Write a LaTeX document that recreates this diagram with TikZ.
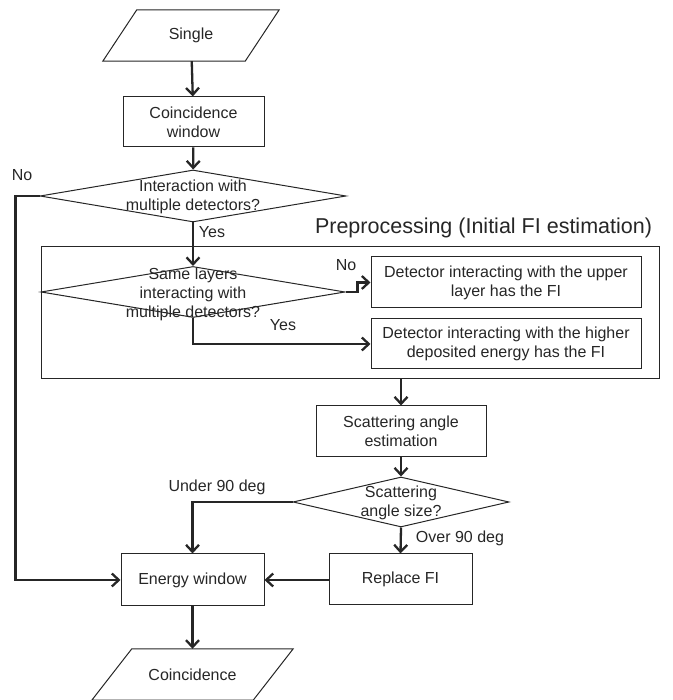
\documentclass[tikz,border=0pt]{standalone}
\usepackage{fontspec}
\setmainfont{Liberation Sans}
\usetikzlibrary{shapes.geometric,arrows.meta}
\definecolor{ink}{gray}{0.15}
\tikzset{
  txt/.style={font=\fontsize{16}{19}\selectfont, align=center, text=ink, inner sep=0pt},
  boxn/.style={draw=ink, line width=1pt, rectangle, inner sep=0pt, font=\fontsize{16}{19}\selectfont, align=center, text=ink},
  dia/.style={draw=ink, line width=1pt, diamond, inner sep=0pt},
  parabase/.style={rectangle, inner sep=0pt, font=\fontsize{16}{19}\selectfont, text=ink},
  outline/.style={draw=ink, line width=1pt, line join=miter},
  arr/.style={draw=ink, line width=2.3pt, -{Straight Barb[length=7pt,width=13pt,line width=2.3pt]}},
}
\begin{document}
\begin{tikzpicture}[x=1pt,y=1pt]
\useasboundingbox (0,0) rectangle (672,700);
% preprocessing frame
\node[boxn, minimum width=618, minimum height=132] (pre) at (350,387) {};
\node[txt, font=\fontsize{21.5}{25}\selectfont] (prelabel) at (483.5,472) {Preprocessing (Initial FI estimation)};
% nodes
\node[parabase, minimum width=142, minimum height=51] (single) at (191,664.5) {Single};
\draw[outline] ([xshift=-17]single.south west) -- ([xshift=17]single.north west) -- ([xshift=17]single.north east) -- ([xshift=-17]single.south east) -- cycle;
\node[boxn, minimum width=141, minimum height=50] (coinc) at (193.5,578) {Coincidence\\window};
\node[dia, minimum width=306, minimum height=52] (d1) at (193,504) {};
\node[txt] at (193,503) {Interaction with\\multiple detectors?};
\node[dia, minimum width=304, minimum height=51] (d2) at (193,408) {};
\node[txt] at (193,406) {Same layers\\interacting with\\multiple detectors?};
\node[boxn, minimum width=270, minimum height=51] (box1) at (506,417.5) {Detector interacting with the upper\\layer has the FI};
\node[boxn, minimum width=270, minimum height=50] (box2) at (506,356) {Detector interacting with the higher\\deposited energy has the FI};
\node[boxn, minimum width=170, minimum height=51] (scat) at (401,268.5) {Scattering angle\\estimation};
\node[dia, minimum width=216, minimum height=50] (d3) at (401,198) {};
\node[txt] at (401,197) {Scattering\\angle size?};
\node[boxn, minimum width=143, minimum height=52] (energy) at (192.5,120) {Energy window};
\node[boxn, minimum width=143, minimum height=51] (replace) at (400.5,120.5) {Replace FI};
\node[parabase, minimum width=161, minimum height=51] (cout) at (192.5,25.5) {Coincidence};
\draw[outline] ([xshift=-20]cout.south west) -- ([xshift=20]cout.north west) -- ([xshift=20]cout.north east) -- ([xshift=-20]cout.south east) -- cycle;
% labels
\node[txt] (lno1) at (22,525) {No};
\node[txt] (lyes1) at (212,468) {Yes};
\node[txt] (lno2) at (346,435) {No};
\node[txt] (lyes2) at (283,375) {Yes};
\node[txt] (lunder) at (217,213) {Under 90 deg};
\node[txt] (lover) at (460,162) {Over 90 deg};
% connectors
\draw[arr] (single) -- (coinc);
\draw[arr] (coinc) -- (d1);
\draw[arr] (d1.west) -- ++(-24,0) |- (energy.west);
\draw[arr] (d1.south) -- (d2.north);
\draw[arr] (d2.east) -- ++(12,0) |- (box1.west);
\draw[arr] (d2.south) |- (box2.west);
\draw[arr] (pre.south -| scat.north) -- (scat.north);
\draw[arr] (scat) -- (d3);
\draw[arr] (d3.west) -| (energy.north);
\draw[arr] (d3.south) -- (replace.north);
\draw[arr] (replace.west |- energy.east) -- (energy.east);
\draw[arr] (energy) -- (cout);
\end{tikzpicture}
\end{document}
